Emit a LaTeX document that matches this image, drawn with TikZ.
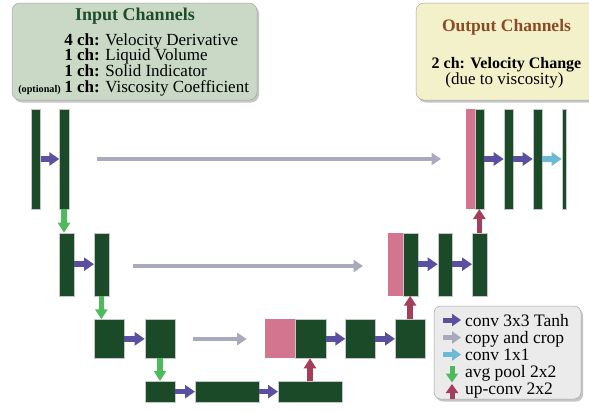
\documentclass[tikz,border=0pt]{standalone}
\usepackage{fontspec}
\setmainfont{Liberation Serif}
\usetikzlibrary{arrows.meta,shadows}
\definecolor{dkg}{HTML}{1B4A28}
\definecolor{pinkc}{HTML}{D4758F}
\definecolor{purp}{HTML}{5A50A0}
\definecolor{greyar}{HTML}{AAAABF}
\definecolor{cyanar}{HTML}{6CB9D5}
\definecolor{greenar}{HTML}{4DBB5B}
\definecolor{redar}{HTML}{A33E5B}
\definecolor{inboxc}{HTML}{C9D9C5}
\definecolor{outboxc}{HTML}{F3F1C9}
\definecolor{legc}{HTML}{EBEBEB}
\definecolor{intitle}{HTML}{1E4D2B}
\definecolor{outtitle}{HTML}{8B4A28}
\tikzset{
  blkbox/.style={fill=dkg, draw=gray!45, line width=0.4bp, inner sep=0pt, outer sep=0pt, anchor=north west},
  pinkbox/.style={fill=pinkc, draw=none, inner sep=0pt, outer sep=0pt, anchor=north west},
  convar/.style={draw=purp, line width=5.5bp, -{Triangle[length=10bp,width=13bp]}},
  copyar/.style={draw=greyar, line width=4.5bp, -{Triangle[length=9.5bp,width=12bp]}},
  onear/.style={draw=cyanar, line width=5.5bp, -{Triangle[length=10bp,width=13bp]}},
  poolar/.style={draw=greenar, line width=5.5bp, -{Triangle[length=10bp,width=12bp]}},
  upar/.style={draw=redar, line width=5.5bp, -{Triangle[length=10bp,width=12bp]}},
  infobox/.style={rounded corners=8bp, draw=gray!70, line width=0.5bp, inner sep=0pt, outer sep=0pt, anchor=north west,
     drop shadow={shadow xshift=2bp, shadow yshift=-2.5bp, opacity=0.45}},
  txt/.style={inner sep=0pt, outer sep=0pt, font=\fontsize{17bp}{16bp}\selectfont},
  ttl/.style={inner sep=0pt, outer sep=0pt, font=\fontsize{18bp}{18bp}\selectfont\bfseries},
}
\begin{document}
\begin{tikzpicture}[x=1bp,y=-1bp]
\clip (0,0) rectangle (589,411);
\fill[white] (0,0) rectangle (589,411);

% ---- info boxes
\node[infobox, fill=inboxc, minimum width=245bp, minimum height=97bp] (inbox) at (12,3) {};
\node[ttl, text=intitle, anchor=base] (intl) at (135,20.7) {Input Channels};
\node[txt, anchor=base west] (in1) at (64.3,45) {\textbf{4 ch:} Velocity Derivative};
\node[txt, anchor=base west] (in2) at (64.3,60.7) {\textbf{1 ch:} Liquid Volume};
\node[txt, anchor=base west] (in3) at (64.3,76.7) {\textbf{1 ch:} Solid Indicator};
\node[txt, anchor=base west] (in4) at (64.3,92.7) {\textbf{1 ch:} Viscosity Coefficient};
\node[inner sep=0pt, anchor=base east, font=\fontsize{10.2bp}{11bp}\selectfont\bfseries] (inopt) at (61,92.7) {(optional)};

\node[infobox, fill=outboxc, minimum width=190bp, minimum height=97bp] (outbox) at (416,3) {};
\node[ttl, text=outtitle, anchor=base, font=\fontsize{17.5bp}{18bp}\selectfont\bfseries] (outtl) at (506.5,31) {Output Channels};
\node[txt, anchor=base, font=\fontsize{16bp}{16bp}\selectfont\bfseries] (out1) at (506.5,68.3) {2 ch: Velocity Change};
\node[txt, anchor=base] (out2) at (504.5,84) {(due to viscosity)};

% ---- row 1
\node[blkbox, minimum width=9.5bp, minimum height=100bp] (a1) at (31,109) {};
\node[blkbox, minimum width=9.4bp, minimum height=100bp] (a2) at (59.3,109) {};
\node[pinkbox, minimum width=9.3bp, minimum height=100bp] (p1) at (465.7,109) {};
\node[blkbox, minimum width=9.3bp, minimum height=100bp] (f1) at (475,109) {};
\node[blkbox, minimum width=9.6bp, minimum height=100bp] (f2) at (503.7,109) {};
\node[blkbox, minimum width=9.6bp, minimum height=100bp] (f3) at (532.7,109) {};
\node[blkbox, minimum width=4.3bp, minimum height=100bp] (f4) at (561.7,109) {};

% ---- row 2
\node[blkbox, minimum width=15bp, minimum height=63bp] (b1) at (59.3,232.7) {};
\node[blkbox, minimum width=14.7bp, minimum height=63bp] (b2) at (94,232.7) {};
\node[pinkbox, minimum width=15.3bp, minimum height=63bp] (p2) at (388,232.7) {};
\node[blkbox, minimum width=14.7bp, minimum height=63bp] (e1) at (403.3,232.7) {};
\node[blkbox, minimum width=14.6bp, minimum height=63bp] (e2) at (437.7,232.7) {};
\node[blkbox, minimum width=14.7bp, minimum height=63bp] (e3) at (472,232.7) {};

% ---- row 3
\node[blkbox, minimum width=30.3bp, minimum height=39bp] (c1) at (94,319.3) {};
\node[blkbox, minimum width=30.6bp, minimum height=39bp] (c2) at (144.7,319.3) {};
\node[pinkbox, minimum width=30bp, minimum height=39bp] (p3) at (265,319.3) {};
\node[blkbox, minimum width=30.7bp, minimum height=39bp] (c3) at (295,319.3) {};
\node[blkbox, minimum width=30bp, minimum height=39bp] (c4) at (345.3,319.3) {};
\node[blkbox, minimum width=30.3bp, minimum height=39bp] (c5) at (395,319.3) {};

% ---- row 4
\node[blkbox, minimum width=30bp, minimum height=21.3bp] (d1) at (144.7,381) {};
\node[blkbox, minimum width=64.3bp, minimum height=21.3bp] (d2) at (195,381) {};
\node[blkbox, minimum width=64bp, minimum height=21.3bp] (d3) at (278,381) {};

% ---- conv arrows
\draw[convar] (a1.east) -- (a2.west);
\draw[convar] (f1.east) -- (f2.west);
\draw[convar] (f2.east) -- (f3.west);
\draw[onear] (f3.east) -- (f4.west);
\draw[convar] (b1.east) -- (b2.west);
\draw[convar] (e1.east) -- (e2.west);
\draw[convar] (e2.east) -- (e3.west);
\draw[convar] (c1.east) -- (c2.west);
\draw[convar] (c3.east) -- (c4.west);
\draw[convar] (c4.east) -- (c5.west);
\draw[convar] (d1.east) -- (d2.west);
\draw[convar] (d2.east) -- (d3.west);

% ---- copy arrows
\coordinate (cp1s) at (97.3,159);
\coordinate (cp1e) at (441,159);
\coordinate (cp2s) at (133.3,266);
\coordinate (cp2e) at (363,266);
\coordinate (cp3s) at (192.7,339);
\coordinate (cp3e) at (246.7,339);
\draw[copyar] (cp1s) -- (cp1e);
\draw[copyar] (cp2s) -- (cp2e);
\draw[copyar] (cp3s) -- (cp3e);

% ---- pooling arrows
\draw[poolar] (a2.south) -- (a2.south |- b1.north);
\draw[poolar] (b2.south) -- (b2.south |- c1.north);
\draw[poolar] (c2.south) -- (c2.south |- d1.north);

% ---- up-conv arrows
\draw[upar] (d3.north) -- (d3.north |- c3.south);
\draw[upar] (c5.north) -- (c5.north |- e1.south);
\draw[upar] (e3.north) -- (e3.north |- f1.south);

% ---- legend
\node[infobox, fill=legc, minimum width=147bp, minimum height=93bp, rounded corners=7bp] (leg) at (434,306) {};
\coordinate (l1s) at (443,320);  \coordinate (l1e) at (461,320);
\coordinate (l2s) at (443,337.5); \coordinate (l2e) at (461,337.5);
\coordinate (l3s) at (443,354.5); \coordinate (l3e) at (461,354.5);
\coordinate (l4s) at (452,366);  \coordinate (l4e) at (452,382.5);
\coordinate (l5s) at (452,398.5); \coordinate (l5e) at (452,384);
\draw[convar, line width=5bp, -{Triangle[length=9bp,width=12bp]}] (l1s) -- (l1e);
\draw[copyar, line width=5bp, -{Triangle[length=9bp,width=12bp]}] (l2s) -- (l2e);
\draw[onear, line width=5bp, -{Triangle[length=9bp,width=12bp]}] (l3s) -- (l3e);
\draw[poolar, line width=5bp, -{Triangle[length=9bp,width=12bp]}] (l4s) -- (l4e);
\draw[upar, line width=5bp, -{Triangle[length=9bp,width=12bp]}] (l5s) -- (l5e);
\node[txt, anchor=base west, font=\fontsize{17.5bp}{17bp}\selectfont] (lt1) at (465,326) {conv 3x3 Tanh};
\node[txt, anchor=base west, font=\fontsize{17.5bp}{17bp}\selectfont] (lt2) at (465,343) {copy and crop};
\node[txt, anchor=base west, font=\fontsize{17.5bp}{17bp}\selectfont] (lt3) at (465,360) {conv 1x1};
\node[txt, anchor=base west, font=\fontsize{17.5bp}{17bp}\selectfont] (lt4) at (465,377) {avg pool 2x2};
\node[txt, anchor=base west, font=\fontsize{17.5bp}{17bp}\selectfont] (lt5) at (465,394) {up-conv 2x2};
\end{tikzpicture}
\end{document}
